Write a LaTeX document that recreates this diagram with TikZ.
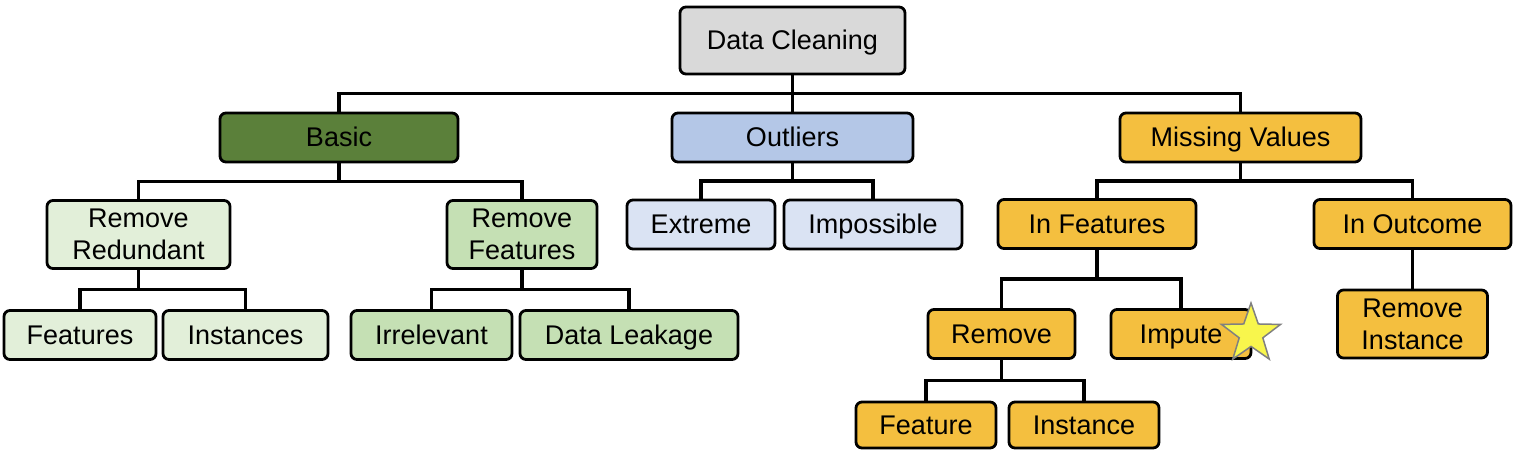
\documentclass[tikz,border=0pt]{standalone}
\usepackage{fontspec}
\setmainfont{Liberation Sans}
\usetikzlibrary{shapes.geometric, calc}
\definecolor{rootgrey}{HTML}{D9D9D9}
\definecolor{basicgreen}{HTML}{5B803A}
\definecolor{palegreen}{HTML}{E2EFD9}
\definecolor{softgreen}{HTML}{C5E0B4}
\definecolor{outlierblue}{HTML}{B4C7E7}
\definecolor{paleblue}{HTML}{DAE3F3}
\definecolor{missinggold}{HTML}{F4BF3F}
\definecolor{staryellow}{HTML}{F8F64C}
\newcommand\boxheight{49pt}
\newcommand\tallheight{68pt}
\tikzstyle{shell} = [rectangle, rounded corners=6pt, inner sep=0pt, align=center, text centered, draw=black, line width=2.8pt, font=\fontsize{27}{32}\selectfont]
\tikzstyle{box} = [shell, minimum height=\boxheight, text height=19pt, text depth=1pt]
\tikzstyle{tallbox} = [shell, minimum height=\tallheight]
\tikzstyle{link} = [line width=3.5pt]
\begin{document}
\begin{tikzpicture}[x=1pt, y=-1pt]

            \useasboundingbox (0,0) rectangle (1517,459);

            \node (root) [box, fill=rootgrey, minimum width=225pt, minimum height=67pt] at (792.5,40.5){Data Cleaning};
            \node (basic) [box, fill=basicgreen, minimum width=238pt] at (339,137.5){Basic};
            \node (outliers) [box, fill=outlierblue, minimum width=241pt] at (792.5,137.5){Outliers};
            \node (missing) [box, fill=missinggold, minimum width=241pt] at (1240.5,137.5){Missing Values};
            \node (redundant) [tallbox, fill=palegreen, minimum width=183pt] at (138.5,234.5){Remove\\Redundant};
            \node (remfeat) [tallbox, fill=softgreen, minimum width=150pt] at (522,234.5){Remove\\Features};
            \node (extreme) [box, fill=paleblue, minimum width=148pt] at (701,224.5){Extreme};
            \node (impossible) [box, fill=paleblue, minimum width=178pt] at (873,224.5){Impossible};
            \node (infeat) [box, fill=missinggold, minimum width=198pt] at (1097,224){In Features};
            \node (inoutcome) [box, fill=missinggold, minimum width=197pt] at (1412.5,224){In Outcome};
            \node (features) [box, fill=palegreen, minimum width=152pt] at (80,335){Features};
            \node (instances) [box, fill=palegreen, minimum width=165pt] at (245.5,335){Instances};
            \node (irrelevant) [box, fill=softgreen, minimum width=161pt] at (431.5,335){Irrelevant};
            \node (leakage) [box, fill=softgreen, minimum width=218pt] at (629,335){Data Leakage};
            \node (remove) [box, fill=missinggold, minimum width=147pt] at (1001.5,334){Remove};
            \node (impute) [box, fill=missinggold, minimum width=140pt] at (1181,334){Impute};
            \node (reminst) [tallbox, fill=missinggold, minimum width=150pt] at (1412.5,324){Remove\\Instance};
            \node (feature) [box, fill=missinggold, minimum width=140pt, minimum height=46pt] at (926,425){Feature};
            \node (instance) [box, fill=missinggold, minimum width=150pt, minimum height=46pt] at (1084,425){Instance};
            \node (goldstar) [star, star points=5, star point ratio=2.5, minimum size=62pt, inner sep=0pt, fill=staryellow, draw=gray, line width=1.5pt] at (1251,334){};


            \draw [link] (root.south) |- ($(root.south)!.5!(basic.north)$) -| (basic.north);
            \draw [link] (root.south) -- (outliers.north);
            \draw [link] (root.south) |- ($(root.south)!.5!(missing.north)$) -| (missing.north);
            \draw [link] (basic.south) |- ($(basic.south)!.5!(redundant.north)$) -| (redundant.north);
            \draw [link] (basic.south) |- ($(basic.south)!.5!(remfeat.north)$) -| (remfeat.north);
            \draw [link] (outliers.south) |- ($(outliers.south)!.5!(extreme.north)$) -| (extreme.north);
            \draw [link] (outliers.south) |- ($(outliers.south)!.5!(impossible.north)$) -| (impossible.north);
            \draw [link] (missing.south) |- ($(missing.south)!.5!(infeat.north)$) -| (infeat.north);
            \draw [link] (missing.south) |- ($(missing.south)!.5!(inoutcome.north)$) -| (inoutcome.north);
            \draw [link] (redundant.south) |- ($(redundant.south)!.5!(features.north)$) -| (features.north);
            \draw [link] (redundant.south) |- ($(redundant.south)!.5!(instances.north)$) -| (instances.north);
            \draw [link] (remfeat.south) |- ($(remfeat.south)!.5!(irrelevant.north)$) -| (irrelevant.north);
            \draw [link] (remfeat.south) |- ($(remfeat.south)!.5!(leakage.north)$) -| (leakage.north);
            \draw [link] (infeat.south) |- ($(infeat.south)!.5!(remove.north)$) -| (remove.north);
            \draw [link] (infeat.south) |- ($(infeat.south)!.5!(impute.north)$) -| (impute.north);
            \draw [link] (inoutcome.south) -- (reminst.north);
            \draw [link] (remove.south) |- ($(remove.south)!.5!(feature.north)$) -| (feature.north);
            \draw [link] (remove.south) |- ($(remove.south)!.5!(instance.north)$) -| (instance.north);

        \end{tikzpicture}
\end{document}
